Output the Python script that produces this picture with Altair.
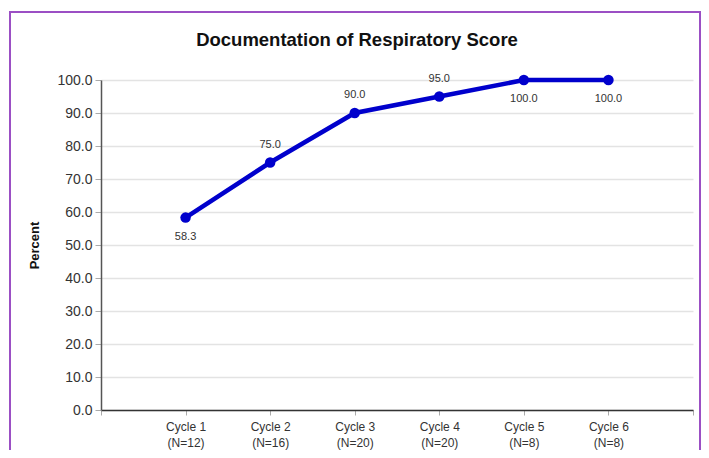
import json
import altair as alt
import pandas as pd

# ---- data ----
cycles = ["Cycle 1", "Cycle 2", "Cycle 3", "Cycle 4", "Cycle 5", "Cycle 6"]
n_counts = [12, 16, 20, 20, 8, 8]
percent = [58.3, 75.0, 90.0, 95.0, 100.0, 100.0]
y_ticks = [0, 10, 20, 30, 40, 50, 60, 70, 80, 90, 100]

df = pd.DataFrame({
    "idx": list(range(1, len(cycles) + 1)),
    "cycle": cycles,
    "n": n_counts,
    "value": percent,
})

line1 = json.dumps(cycles)
line2 = json.dumps([f"(N={n})" for n in n_counts])
label_expr = (
    f"datum.value >= 1 && datum.value <= {len(cycles)} ? "
    f"[{line1}[datum.value - 1], {line2}[datum.value - 1]] : ''"
)

W, H = 592, 330
PAD_L, PAD_T, PAD_R, PAD_B = 93, 72, 8, 40

x_enc = alt.X(
    "idx:Q",
    scale=alt.Scale(domain=[0, len(cycles) + 1], nice=False, zero=False),
    axis=alt.Axis(
        title=None,
        values=list(range(0, len(cycles) + 2)),
        labelExpr=label_expr,
        labelOverlap=False,
        grid=False,
        domainColor="#333333",
        domainWidth=1.5,
        tickColor="#aaaaaa",
        tickSize=5,
        labelFont="Liberation Sans",
        labelFontSize=12,
        labelColor="#333333",
        labelLineHeight=16,
        labelPadding=6,
    ),
)
y_enc = alt.Y(
    "value:Q",
    scale=alt.Scale(domain=[0, 100], nice=False),
    axis=alt.Axis(
        title="Percent",
        values=y_ticks,
        tickCount=11,
        format=".1f",
        labelOverlap=False,
        grid=True,
        gridColor="#e3e3e3",
        gridWidth=1.5,
        domainColor="#555555",
        domainWidth=1.5,
        tickColor="#aaaaaa",
        tickSize=6,
        labelFont="Liberation Sans",
        labelFontSize=14,
        labelColor="#333333",
        labelPadding=3,
        titleFont="Liberation Sans",
        titleFontSize=13,
        titleFontWeight="bold",
        titleColor="#111111",
        titlePadding=15,
    ),
)

base = alt.Chart(df)

border = base.transform_filter("datum.idx == 1").mark_rect(
    fill=None, stroke="#9b4fc4", strokeWidth=2, clip=False
).encode(
    x=alt.value(-(PAD_L - 2)),
    x2=alt.value(W + PAD_R - 1),
    y=alt.value(-(PAD_T - 4)),
    y2=alt.value(H + PAD_B + 20),
)

line = base.mark_line(color="#0000cc", strokeWidth=4.5).encode(x=x_enc, y=y_enc)
pts = base.mark_circle(color="#0000cc", size=110, opacity=1).encode(x=x_enc, y=y_enc)

side = "datum.idx == 1 || datum.value >= 100"
txt_below = base.transform_filter(side).mark_text(
    dy=19, fontSize=11, color="#333333", font="Liberation Sans"
).encode(x=x_enc, y=y_enc, text=alt.Text("value:Q", format=".1f"))
txt_above = base.transform_filter("!(" + side + ")").mark_text(
    dy=-18, fontSize=11, color="#333333", font="Liberation Sans"
).encode(x=x_enc, y=y_enc, text=alt.Text("value:Q", format=".1f"))

chart = alt.layer(border, line, pts, txt_below, txt_above).properties(
    width=W,
    height=H,
    title=alt.TitleParams(
        "Documentation of Respiratory Score",
        font="Liberation Sans",
        fontSize=18.5,
        fontWeight="bold",
        color="#111111",
        anchor="middle",
        frame="group",
        dx=-40,
        offset=-38,
    ),
    autosize=alt.AutoSizeParams(type="none"),
    padding={"left": PAD_L, "top": PAD_T, "right": PAD_R, "bottom": PAD_B},
).configure_view(stroke=None)

chart.save("out.html", embed_options={"renderer": "svg", "actions": False})
